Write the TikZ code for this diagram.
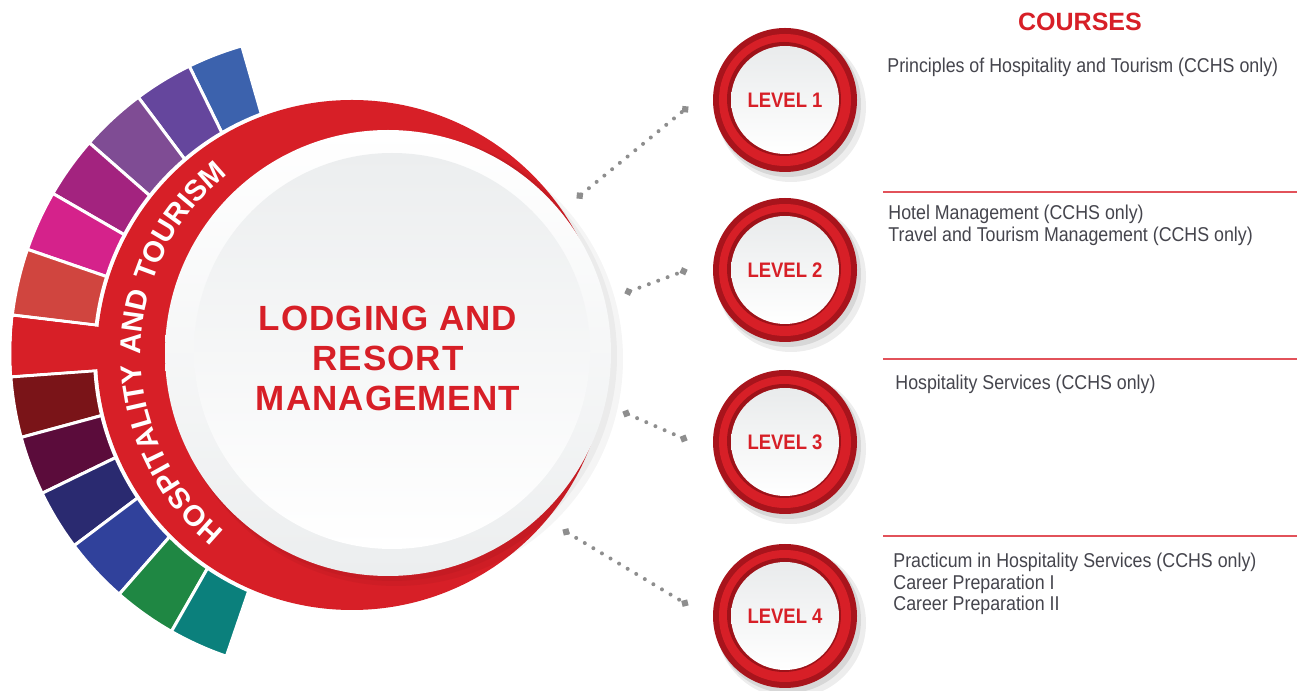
\documentclass[tikz,border=0pt]{standalone}
\usepackage{fontspec}
\setmainfont{Liberation Sans}
\newfontfamily\titlefont[LetterSpace=3.0]{Liberation Sans}
\newfontfamily\arcfont[LetterSpace=4.0]{Liberation Sans}
\newfontfamily\narrowfont[FakeStretch=0.89]{Liberation Sans}
\newfontfamily\levfont[FakeStretch=0.88]{Liberation Sans}
\usetikzlibrary{decorations.text,arrows.meta,calc}
\definecolor{mainred}{HTML}{D71F27}
\definecolor{rimred}{HTML}{A8141C}
\definecolor{darkrim}{HTML}{9E1219}
\definecolor{sepred}{HTML}{E2525A}
\definecolor{dotgray}{HTML}{8E8E8E}
\definecolor{coursegray}{HTML}{45454D}
\definecolor{diskgray}{HTML}{ECEEEF}
\definecolor{levgray}{HTML}{E9EBEC}
\definecolor{segA}{HTML}{3C62AD}
\definecolor{segB}{HTML}{65469D}
\definecolor{segC}{HTML}{7F4C94}
\definecolor{segD}{HTML}{A3237F}
\definecolor{segE}{HTML}{D5228B}
\definecolor{segF}{HTML}{D0453F}
\definecolor{segH}{HTML}{7A1418}
\definecolor{segI}{HTML}{5B0C3B}
\definecolor{segJ}{HTML}{2A2A70}
\definecolor{segK}{HTML}{30419B}
\definecolor{segL}{HTML}{1F8743}
\definecolor{segM}{HTML}{0B807C}
\tikzset{
  segwedge/.style={draw=white, line width=1.5pt},
  levelc/.style={circle, minimum size=54pt, inner sep=0pt, top color=levgray, bottom color=white,
    text=mainred, font=\levfont\bfseries\fontsize{10.5}{12}\selectfont},
  titlestyle/.style={inner sep=0pt, align=center, text=mainred,
    font=\titlefont\bfseries\fontsize{17.5}{20}\selectfont},
  coursehead/.style={inner sep=0pt, text=mainred, font=\bfseries\fontsize{12.5}{14}\selectfont},
  course/.style={anchor=north west, inner sep=0pt, align=left, text=coursegray,
    font=\narrowfont\fontsize{10}{10.75}\selectfont},
  dotline/.style={draw=dotgray, line width=2pt, line cap=round, dash pattern=on 0pt off 5pt,
    {Circle[length=3.6pt]}-{Circle[length=3.6pt]}},
  sepline/.style={draw=sepred, line width=1pt}
}
\begin{document}
\begin{tikzpicture}[x=0.5pt,y=0.5pt]
\useasboundingbox (0,0) rectangle (1297,691);
\fill[white] (0,0) rectangle (1297,691);

% coloured segments
\coordinate (S) at (330,337.5);
\foreach \a/\b/\c in {106/116.1/segA,116.1/126.8/segB,126.8/138.8/segC,138.8/150/segD,
  150/161/segE,161/173.1/segF,173.1/184.2/mainred,184.2/195.2/segH,195.2/205.9/segI,
  205.9/216.9/segJ,216.9/228.8/segK,228.8/240.3/segL,240.3/251.1/segM}{
  \filldraw[segwedge, fill=\c] (S) -- ($(S)+(\a:320)$) arc[start angle=\a, end angle=\b, radius=320] -- cycle;
}
% white gap round the red band
\fill[white] (352,336) circle (259);
% red tab joining the band
\fill[mainred] (S) -- ($(S)+(173.45:318.5)$) arc[start angle=173.45, end angle=183.85, radius=318.5] -- cycle;
% red crescent band
\fill[mainred] (352,336) circle (255);
% disk shadow and disk
\fill[black, opacity=0.04] (396,332) circle (227);
\fill[black, opacity=0.04] (392,335) circle (225);
\shade[top color=white, bottom color=diskgray] (388,338) circle (223);
\shade[top color=diskgray, bottom color=white] (392,340) circle (198);

% curved label
\coordinate (T) at (370,337);
\path[decorate, decoration={text along path, text align=center, text color=white,
  text={|\arcfont\bfseries\fontsize{14.6}{17}\selectfont|HOSPITALITY AND TOURISM}}]
  ($(T)+(242:229)$) arc[start angle=242, end angle=117, radius=229];

% centre title
\node[titlestyle, anchor=north] (title) at (388,385) {LODGING AND\\RESORT\\MANAGEMENT};

% level circles
\foreach \i/\y in {1/591,2/421,3/249,4/75}{
  \coordinate (P\i) at (785,\y);
  \fill[black, opacity=0.07] ($(P\i)+(6,-7)$) circle (75);
  \fill[black, opacity=0.09] ($(P\i)+(3,-4)$) circle (73);
  \fill[rimred] (P\i) circle (72);
  \fill[mainred] (P\i) circle (66);
  \fill[darkrim] ($(P\i)+(-1,1)$) circle (57);
  \node[levelc] (L\i) at (P\i) {LEVEL \i};
}

% dotted connectors
\coordinate (a1) at (577,493); \coordinate (b1) at (688,584);
\coordinate (a2) at (625,398); \coordinate (b2) at (687,421);
\coordinate (a3) at (623,279); \coordinate (b3) at (687,251);
\coordinate (a4) at (563,161); \coordinate (b4) at (688,86);
\foreach \i in {1,...,4}{ \draw[dotline] (a\i) -- (b\i); }

% courses column
\node[coursehead, anchor=north] (ch) at (1080,678) {COURSES};
\node[course] (c1) at (887,633) {Principles of Hospitality and Tourism (CCHS only)};
\draw[sepline] (883,499) -- (1297,499);
\node[course] (c2) at (888,486) {Hotel Management (CCHS only)\\Travel and Tourism Management (CCHS only)};
\draw[sepline] (883,332) -- (1297,332);
\node[course] (c3) at (895,316) {Hospitality Services (CCHS only)};
\draw[sepline] (883,155) -- (1297,155);
\node[course] (c4) at (893,138) {Practicum in Hospitality Services (CCHS only)\\Career Preparation I\\Career Preparation II};
\end{tikzpicture}
\end{document}
